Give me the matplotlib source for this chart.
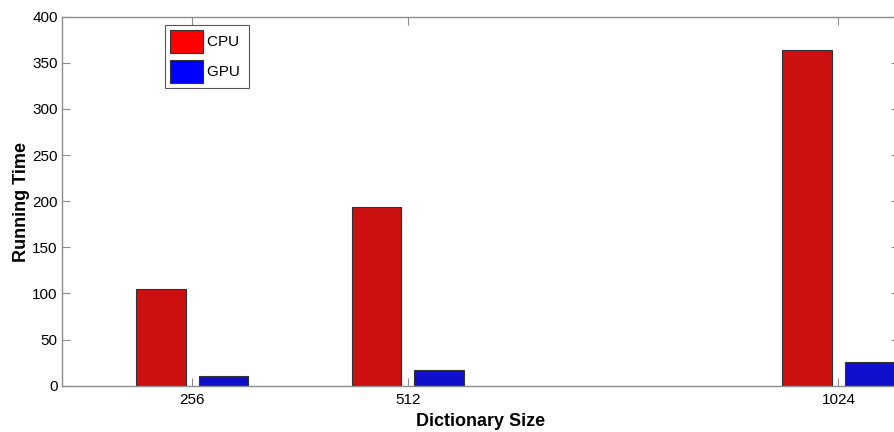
import matplotlib
matplotlib.use("Agg")
import matplotlib.pyplot as plt
from matplotlib.patches import Patch

plt.rcParams['font.family'] = ['Liberation Sans', 'DejaVu Sans']

# running time per dictionary size
dict_sizes = [256, 512, 1024]
cpu_time = [105, 193.5, 364]
gpu_time = [10, 17, 26]
series_names = ["CPU ", "GPU "]
y_ticks = [0, 50, 100, 150, 200, 250, 300, 350, 400]

bar_w = 59
offset = 37
axis_grey = '#8c8c8c'

fig = plt.figure(figsize=(8.95, 4.32), dpi=100)
ax = fig.add_axes([62 / 895, 46.3 / 432, 837 / 895, 369 / 432])

ax.bar([x - offset for x in dict_sizes], cpu_time, width=bar_w,
       color='#cc1010', edgecolor='#333333', linewidth=0.8, zorder=2)
ax.bar([x + offset for x in dict_sizes], gpu_time, width=bar_w,
       color='#1010cc', edgecolor='#333333', linewidth=0.8, zorder=2)

ax.set_xlim(101, 1096)
ax.set_ylim(0, 400)
ax.set_xticks(dict_sizes)
ax.set_xticklabels([str(s) for s in dict_sizes])
ax.set_yticks(y_ticks)

for sp in ax.spines.values():
    sp.set_color(axis_grey)
    sp.set_linewidth(1.0)
ax.tick_params(direction='in', length=5.5, width=0.8, color=axis_grey,
               top=True, right=True, labelsize=11, labelcolor='black')
ax.tick_params(axis='x', pad=5)
ax.tick_params(axis='y', pad=3)

ax.set_xlabel("Dictionary Size", fontsize=13, fontweight='bold')
ax.set_ylabel("Running Time", fontsize=13, fontweight='bold')
ax.xaxis.set_label_coords(0.5, -0.075)
ax.yaxis.set_label_coords(-0.038, 0.497)

# legend swatches use the plain primaries
handles = [Patch(facecolor='#ff0000', edgecolor='#333333', linewidth=0.8),
           Patch(facecolor='#0000ff', edgecolor='#333333', linewidth=0.8)]
leg = ax.legend(handles, series_names, loc='upper left',
                bbox_to_anchor=(165 / 895, 1 - 25 / 432),
                bbox_transform=fig.transFigure, borderaxespad=0,
                fontsize=11, handlelength=2.16, handleheight=1.94,
                handletextpad=0.26, labelspacing=0.46, borderpad=0.33,
                fancybox=False, framealpha=1, edgecolor='#555555')
leg.get_frame().set_linewidth(0.8)

fig.savefig("out.png", dpi=100)
